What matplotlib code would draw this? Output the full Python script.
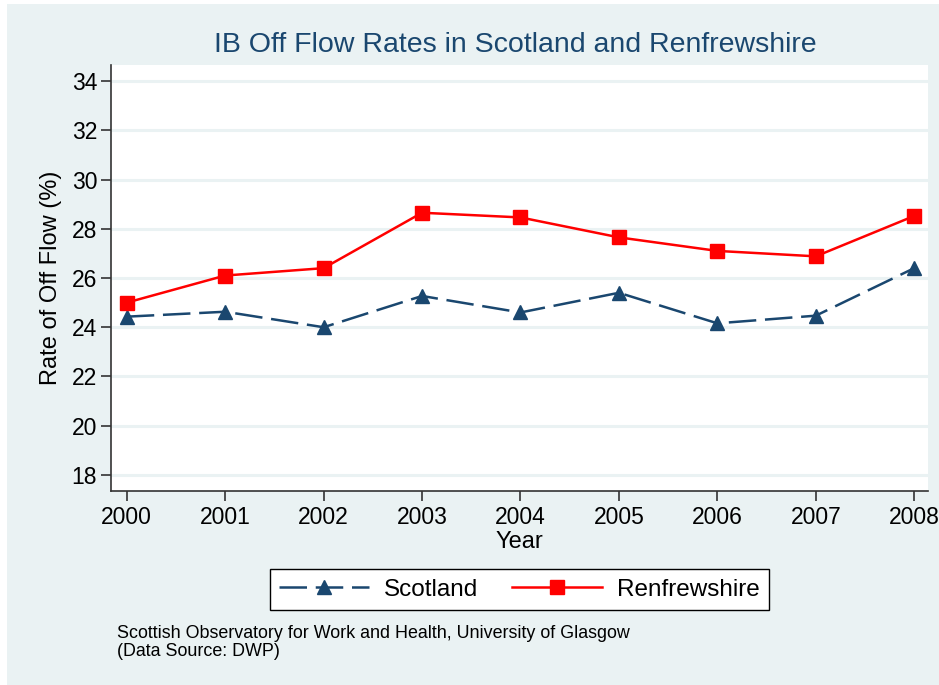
#!/usr/bin/env python3
# IB off flow rates, Scotland vs Renfrewshire (Stata-style line chart)

import matplotlib
matplotlib.use("Agg")
import matplotlib.pyplot as plt
from matplotlib.patches import Rectangle

years = [2000, 2001, 2002, 2003, 2004, 2005, 2006, 2007, 2008]
scotland = [24.43, 24.63, 24.0, 25.27, 24.6, 25.4, 24.16, 24.47, 26.4]
renfrewshire = [25.0, 26.1, 26.4, 28.65, 28.46, 27.65, 27.1, 26.88, 28.52]
y_ticks = [18, 20, 22, 24, 26, 28, 30, 32, 34]

BG = "#EAF2F3"
NAVY = "#1A476F"
RED = "#FF0000"
AXIS = "#333333"

plt.rcParams["font.family"] = ["Liberation Sans", "DejaVu Sans"]

fig = plt.figure(figsize=(9.39, 6.85), dpi=100)
fig.patch.set_facecolor("white")
fig.patches.append(Rectangle((7 / 939, 0), 1, 1 - 4 / 685, transform=fig.transFigure,
                             facecolor=BG, edgecolor="none", zorder=-10))

ax = fig.add_axes([111 / 939, 1 - 491 / 685, (928 - 111) / 939, (491 - 65) / 685])
ax.set_facecolor("white")

ax.plot(years, scotland, color=NAVY, linewidth=1.8, dashes=(11, 3.5),
        marker="^", markersize=10.5, markerfacecolor=NAVY, markeredgecolor=NAVY,
        label="Scotland", zorder=3)
ax.plot(years, renfrewshire, color=RED, linewidth=1.8,
        marker="s", markersize=9.5, markerfacecolor=RED, markeredgecolor=RED,
        label="Renfrewshire", zorder=3)

ax.set_xlim(1999.84, 2008.14)
ax.set_ylim(17.35, 34.65)
ax.set_xticks(years)
ax.set_yticks(y_ticks)
ax.grid(axis="y", color=BG, linewidth=2.2, zorder=0)
ax.grid(axis="x", visible=False)

for side in ["top", "right"]:
    ax.spines[side].set_visible(False)
for side in ["left", "bottom"]:
    ax.spines[side].set_color(AXIS)
    ax.spines[side].set_linewidth(1.2)

ax.tick_params(axis="both", direction="out", length=7, width=1.2, color=AXIS,
               labelsize=16.5, labelcolor="black")
ax.tick_params(axis="x", pad=4)
ax.tick_params(axis="y", pad=3)

ax.set_xlabel("Year", fontsize=17, labelpad=1)
ax.set_ylabel("Rate of Off Flow (%)", fontsize=17, labelpad=7)

fig.text(515 / 939, 1 - 45 / 685, "IB Off Flow Rates in Scotland and Renfrewshire",
         ha="center", va="center", fontsize=20.5, color=NAVY)

leg = fig.legend(loc="center", bbox_to_anchor=(519.5 / 939, 1 - 589.5 / 685),
                 ncol=2, fontsize=17.5, frameon=True, fancybox=False,
                 edgecolor="black", facecolor="white", framealpha=1,
                 handlelength=3.7, handletextpad=0.6, columnspacing=1.4,
                 borderpad=0.4, borderaxespad=0)
leg.get_frame().set_linewidth(1.0)

fig.text(117 / 939, 1 - 633 / 685,
         "Scottish Observatory for Work and Health, University of Glasgow",
         ha="left", va="center", fontsize=12.9, color="black")
fig.text(117 / 939, 1 - 652 / 685, "(Data Source: DWP)",
         ha="left", va="center", fontsize=12.9, color="black")

fig.savefig("out.png", dpi=100)
plt.close(fig)
